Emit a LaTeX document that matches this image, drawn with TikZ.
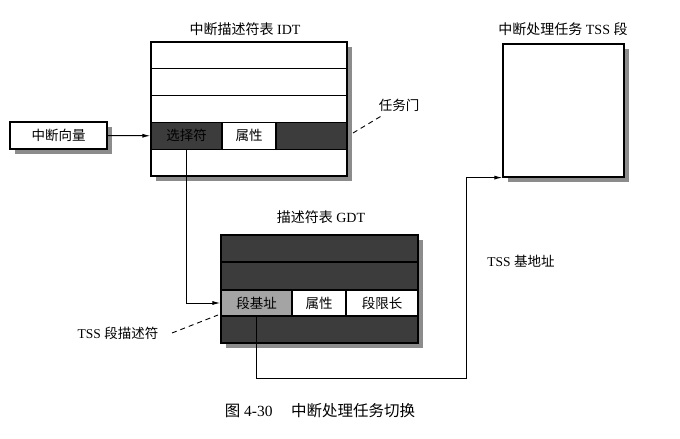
\documentclass[tikz,border=0pt]{standalone}
\usepackage{fontspec}
\setmainfont{Liberation Serif}
\newfontfamily\cjk{Noto Sans CJK SC}
\usetikzlibrary{arrows.meta}
\definecolor{darkfill}{HTML}{3C3C3C}
\definecolor{shadowgray}{HTML}{8C8C8C}
\definecolor{lightcell}{HTML}{A4A4A4}
\tikzset{
  cell/.style={draw=black, line width=1.2pt, inner sep=0pt, anchor=center},
  whitecell/.style={cell, fill=white},
  darkcell/.style={cell, fill=darkfill},
  shadowbox/.style={fill=shadowgray, draw=none},
  lbl/.style={font=\fontsize{13.5}{15}\selectfont, inner sep=0pt},
  ttl/.style={font=\fontsize{14}{16}\selectfont, inner sep=0pt},
  link/.style={line width=1pt, -{Latex[length=8pt,width=4pt]}},
  leader/.style={line width=0.9pt, dash pattern=on 5pt off 4pt}
}
\begin{document}
\begin{tikzpicture}[x=1pt,y=-1pt]
\useasboundingbox (0,0) rectangle (680,439);
\fill[white] (0,0) rectangle (680,439);

% ---- interrupt vector box ----
\fill[shadowbox] (15,127) rectangle (112,154);
\node[whitecell, minimum width=97pt, minimum height=27pt] (vec) at (58.5,135.5) {};
\node[lbl] at (vec) {\cjk 中断向量};

% ---- IDT ----
\node[ttl] (idttitle) at (245,29) {{\cjk 中断描述符表} IDT};
\fill[shadowbox] (156,47) rectangle (352,181);
\node[whitecell, minimum width=196pt, minimum height=26.8pt] (idt1) at (249,55.4) {};
\node[whitecell, minimum width=196pt, minimum height=26.8pt] (idt2) at (249,82.2) {};
\node[whitecell, minimum width=196pt, minimum height=26.8pt] (idt3) at (249,109) {};
\node[darkcell, minimum width=71pt, minimum height=26.8pt] (sel) at (186.5,135.8) {};
\node[whitecell, minimum width=54pt, minimum height=26.8pt] (idtattr) at (249,135.8) {};
\node[darkcell, minimum width=71pt, minimum height=26.8pt] (idtrest) at (311.5,135.8) {};
\node[whitecell, minimum width=196pt, minimum height=26.8pt] (idt5) at (249,162.6) {};
\node[lbl, text=black] at (sel) {\cjk 选择符};
\node[lbl] at (idtattr) {\cjk 属性};

% ---- task gate label ----
\node[lbl] (gatelbl) at (399,105) {\cjk 任务门};
\coordinate (gateend) at (353,133);
\coordinate (gatetip) at (383,115);
\draw[leader] (gateend) -- (gatetip);

% ---- GDT ----
\node[ttl] (gdttitle) at (321,217) {{\cjk 描述符表} GDT};
\fill[shadowbox] (226,240) rectangle (423,348);
\node[darkcell, minimum width=197pt, minimum height=27pt] (gdt1) at (319.5,248.5) {};
\node[darkcell, minimum width=197pt, minimum height=28pt] (gdt2) at (319.5,276) {};
\node[cell, fill=lightcell, minimum width=71pt, minimum height=26pt] (base) at (256.5,303) {};
\node[whitecell, minimum width=54pt, minimum height=26pt] (gdtattr) at (319,303) {};
\node[whitecell, minimum width=72pt, minimum height=26pt] (limit) at (382,303) {};
\node[darkcell, minimum width=197pt, minimum height=27pt] (gdt4) at (319.5,329.5) {};
\node[lbl] at (base) {\cjk 段基址};
\node[lbl] at (gdtattr) {\cjk 属性};
\node[lbl] at (limit) {\cjk 段限长};

% ---- TSS descriptor label ----
\node[lbl] (desclbl) at (118,333) {TSS {\cjk 段描述符}};
\coordinate (descstart) at (172,333);
\coordinate (descend) at (218,315);
\draw[leader] (descstart) -- (descend);

% ---- TSS segment ----
\node[ttl] (tsstitle) at (563,29) {{\cjk 中断处理任务} TSS {\cjk 段}};
\fill[shadowbox] (508,49) rectangle (629,182);
\node[whitecell, minimum width=121pt, minimum height=133pt] (tss) at (563.5,110.5) {};

\node[lbl] (tssbase) at (521,261) {TSS {\cjk 基地址}};

% ---- connectors ----
\draw[link] (vec.east) -- (sel.west);
\draw[link] (sel.south) |- (base.west);
\coordinate (turn) at (466,378);
\draw[link] (base.south) |- (turn) |- (tss.south west);

% ---- caption ----
\node[font=\fontsize{15.5}{17}\selectfont, inner sep=0pt] (caption) at (320,411)
  {{\cjk 图} 4-30\hspace{1.2em}{\cjk 中断处理任务切换}};
\end{tikzpicture}
\end{document}
